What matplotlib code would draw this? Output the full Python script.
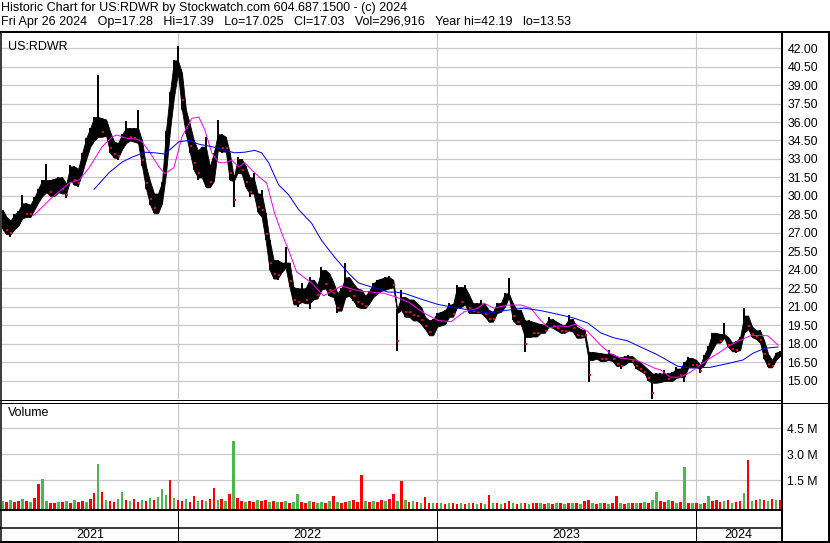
import numpy as np
import pandas as pd
import matplotlib
matplotlib.use("Agg")
import matplotlib.pyplot as plt
from matplotlib.lines import Line2D
from matplotlib.ticker import FormatStrFormatter, FuncFormatter

plt.rcParams['font.family'] = ['Liberation Sans', 'DejaVu Sans']

# ---------------- data ----------------
last_date = "2024-04-26"
step = 4  # trading days between samples
hi = [28.9, 28.3, 28.0, 28.5, 28.8, 30.1, 29.4, 29.3, 29.9, 30.6,
      31.3, 32.6, 31.3, 31.4, 31.5, 31.5, 31.0, 32.5, 32.4, 32.2,
      33.5, 34.7, 35.5, 36.4, 39.8, 36.3, 36.2, 35.2, 34.4, 34.3,
      35.0, 36.1, 35.5, 35.5, 37.0, 34.5, 32.4, 31.2, 30.2, 30.2,
      31.1, 35.3, 38.4, 41.0, 42.19, 40.0, 37.0, 35.8, 34.5, 33.7,
      34.0, 34.8, 32.4, 33.5, 36.2, 35.0, 34.8, 33.5, 31.5, 33.2,
      33.0, 32.4, 31.5, 31.9, 30.2, 30.5, 28.6, 26.4, 24.8, 24.8,
      24.6, 25.9, 24.6, 22.6, 22.5, 22.9, 22.5, 23.4, 23.2, 22.8,
      24.2, 24.0, 23.7, 23.0, 22.1, 22.5, 24.55, 23.4, 22.9, 22.5,
      22.4, 21.9, 22.3, 22.9, 23.2, 23.3, 23.4, 23.5, 23.2, 20.8,
      22.4, 21.8, 21.6, 21.6, 21.3, 21.0, 20.2, 19.9, 20.0, 20.5,
      20.6, 20.75, 21.3, 21.2, 22.8, 22.6, 22.8, 22.0, 21.3, 21.3,
      21.6, 21.2, 20.75, 20.6, 21.3, 21.3, 22.1, 23.35, 21.3, 20.75,
      20.75, 19.9, 19.9, 19.8, 19.7, 19.6, 19.55, 20.2, 20.0, 19.8,
      19.6, 19.5, 20.35, 20.0, 19.4, 19.2, 19.1, 17.35, 17.35, 17.3,
      17.25, 17.2, 17.5, 17.2, 17.0, 16.9, 17.0, 17.1, 17.0, 16.7,
      16.5, 16.2, 15.9, 15.6, 15.65, 15.6, 15.9, 15.6, 15.7, 16.1,
      16.0, 16.5, 16.95, 16.85, 16.7, 16.3, 17.1, 17.8, 18.9, 18.9,
      18.8, 19.7, 18.55, 18.1, 18.2, 18.55, 20.9, 20.3, 19.4, 19.1,
      19.1, 18.3, 17.2, 16.7, 17.3, 17.39]
lo = [27.3, 26.9, 26.7, 27.3, 27.6, 28.2, 28.3, 28.3, 28.9, 29.5,
      30.0, 30.3, 30.0, 29.9, 30.3, 30.2, 29.8, 31.3, 30.9, 30.7,
      31.9, 33.0, 34.0, 34.5, 34.8, 34.8, 34.9, 33.5, 33.1, 32.9,
      33.8, 34.3, 34.5, 34.4, 34.3, 32.4, 30.6, 29.3, 28.6, 28.6,
      29.4, 31.8, 35.3, 38.0, 40.0, 37.0, 35.0, 33.5, 32.1, 31.3,
      31.5, 30.7, 30.7, 31.2, 33.7, 33.5, 33.6, 31.3, 29.1, 31.9,
      31.8, 30.7, 29.9, 30.2, 28.7, 28.3, 26.4, 24.0, 23.3, 23.2,
      23.8, 24.2, 22.6, 21.2, 21.0, 21.4, 21.3, 20.8, 21.6, 21.7,
      22.4, 22.5, 21.9, 21.8, 20.5, 20.7, 21.8, 21.9, 21.5, 21.0,
      20.9, 20.8, 21.3, 21.8, 22.1, 22.3, 22.4, 22.5, 22.6, 17.4,
      20.75, 20.2, 20.2, 19.9, 19.9, 19.6, 19.2, 18.7, 18.7, 19.4,
      19.5, 19.6, 20.2, 20.2, 21.0, 21.0, 21.2, 20.5, 20.5, 20.4,
      20.5, 20.2, 19.8, 19.8, 20.5, 20.6, 21.0, 21.8, 19.9, 19.5,
      19.6, 17.35, 18.55, 18.6, 18.6, 18.9, 18.9, 19.4, 19.3, 19.1,
      18.9, 18.9, 19.1, 19.0, 18.5, 18.5, 18.55, 14.9, 16.7, 16.8,
      16.6, 16.6, 16.7, 16.6, 16.2, 16.0, 16.3, 16.55, 16.5, 16.0,
      15.8, 15.6, 15.0, 13.53, 14.85, 14.9, 15.0, 14.95, 15.0, 15.25,
      15.3, 14.9, 16.1, 16.1, 16.1, 15.65, 16.3, 16.9, 17.5, 18.1,
      18.1, 18.55, 17.75, 17.4, 17.25, 17.5, 18.9, 19.2, 18.55, 18.4,
      18.1, 16.8, 16.1, 16.05, 16.7, 17.025]

# volume in millions per sample, colour code per sample (g = up, r = down)
volume = [0.30, 0.25, 0.35, 0.22, 0.28, 0.40, 0.30, 0.25, 0.45, 1.27,
          1.58, 0.30, 0.20, 0.18, 0.25, 0.22, 0.30, 0.20, 0.35, 0.25,
          0.30, 0.25, 0.40, 0.75, 2.44, 0.80, 0.35, 0.30, 0.25, 0.40,
          0.80, 0.35, 0.30, 0.40, 0.25, 0.35, 0.30, 0.45, 0.35, 0.50,
          1.00, 0.65, 1.50, 0.45, 0.35, 0.30, 0.40, 0.25, 0.56, 0.30,
          0.35, 0.30, 0.40, 1.04, 0.35, 0.40, 0.30, 0.70, 3.77, 0.45,
          0.30, 0.25, 0.30, 0.25, 0.35, 0.30, 0.35, 0.25, 0.30, 0.25,
          0.25, 0.30, 0.20, 0.25, 0.70, 0.25, 0.20, 0.30, 0.25, 0.20,
          0.25, 0.20, 0.30, 0.56, 0.25, 0.20, 0.25, 0.30, 0.35, 0.25,
          1.81, 0.30, 0.25, 0.30, 0.25, 0.35, 0.30, 0.40, 0.70, 0.30,
          1.46, 0.35, 0.25, 0.30, 0.25, 0.20, 0.54, 0.20, 0.15, 0.18,
          0.15, 0.12, 0.15, 0.18, 0.12, 0.15, 0.12, 0.15, 0.18, 0.12,
          0.15, 0.12, 0.65, 0.15, 0.18, 0.12, 0.15, 0.30, 0.15, 0.12,
          0.20, 0.15, 0.12, 0.18, 0.15, 0.20, 0.12, 0.15, 0.12, 0.18,
          0.15, 0.12, 0.20, 0.15, 0.18, 0.12, 0.30, 0.37, 0.15, 0.12,
          0.15, 0.18, 0.12, 0.20, 0.56, 0.15, 0.12, 0.18, 0.15, 0.20,
          0.18, 0.25, 0.20, 0.35, 0.79, 0.30, 0.25, 0.35, 0.30, 0.20,
          0.25, 2.23, 0.20, 0.15, 0.18, 0.12, 0.20, 0.60, 0.30, 0.35,
          0.25, 0.30, 0.35, 0.20, 0.25, 0.30, 0.75, 2.63, 0.30, 0.35,
          0.40, 0.35, 0.30, 0.40, 0.35, 0.37]
vol_dir = ("grgrrgrgrr" "ggrrgrgrgr" "rgrrgrgrrg" "grgrrgrgrg" "ggrgrrgrrg"
           "rgrrgrgrgr" "rgrrgrrgrg" "rgrggrrgrg" "grgrgrrgrr" "rgrgrrgrrg"
           "rgrgrgrrgr" "grgrrgrgrg" "rgrgrgrrgr" "grgrrgrgrg" "rgrgrgrrgr"
           "grgrrgrgrg" "rgrggrrgrg" "rgrgrgrgrr" "rgrgrrgrgr" "grgrgr")

# moving averages: (trading day number, value)
ma_fast_day = [31, 50, 67, 77, 87, 100, 110, 115, 123, 135, 140, 148, 157, 163, 172,
               180, 190, 197, 203, 210, 217, 223, 230, 237, 243, 250, 258, 265, 273,
               280, 288, 295, 310, 322, 340, 357, 370, 383, 395, 407, 423, 437, 450,
               463, 477, 483, 493, 507, 520, 530, 540, 548, 557, 567, 575, 587, 600,
               610, 620, 635, 647, 655, 660, 670, 680, 690, 700, 710, 720, 730, 740,
               750, 760, 768, 778]
ma_fast = [28.4, 29.9, 31.05, 31.3, 32.3, 34.0, 34.8, 34.95, 34.7, 34.6, 34.4, 33.5,
           32.35, 31.8, 32.3, 34.8, 36.3, 36.4, 35.35, 33.5, 32.7, 32.7, 32.9, 32.35,
           32.7, 32.1, 31.5, 31.05, 28.6, 27.0, 25.4, 23.85, 22.95, 21.9, 22.7, 22.3,
           22.2, 22.1, 21.8, 21.4, 20.5, 19.9, 19.8, 20.6, 20.9, 21.3, 20.9, 21.15,
           21.15, 20.9, 19.9, 19.3, 19.45, 19.4, 19.6, 19.0, 17.9, 17.2, 16.85, 16.7,
           16.3, 16.0, 15.9, 15.3, 15.3, 15.7, 16.3, 16.85, 17.35, 17.9, 18.3, 18.65,
           18.7, 18.65, 17.9]
ma_slow_day = [92, 107, 120, 130, 143, 153, 163, 177, 187, 197, 210, 223, 233, 243, 253,
               260, 267, 277, 287, 297, 310, 320, 333, 347, 357, 373, 387, 395, 403,
               423, 437, 457, 473, 487, 503, 523, 540, 560, 573, 587, 600, 613, 627,
               640, 655, 663, 677, 690, 710, 730, 743, 753, 765, 778]
ma_slow = [30.55, 31.9, 32.75, 33.15, 33.55, 33.5, 33.4, 34.4, 34.5, 34.2, 34.0, 33.7,
           33.5, 33.55, 33.7, 33.5, 32.7, 30.9, 30.1, 28.9, 27.8, 26.4, 25.05, 23.75,
           22.95, 22.55, 22.2, 22.2, 22.1, 21.55, 21.2, 20.9, 20.7, 20.5, 20.7, 20.9,
           20.7, 20.35, 20.1, 19.7, 18.9, 18.5, 18.25, 17.75, 17.2, 16.85, 16.2, 16.05,
           16.1, 16.45, 16.7, 17.25, 17.65, 17.75]

years = ["2021", "2022", "2023", "2024"]
price_ticks = np.arange(15.0, 42.01, 1.5)
vol_ticks = [1.5, 3.0, 4.5]

header1 = "Historic Chart for US:RDWR by Stockwatch.com 604.687.1500 - (c) 2024"
header2 = ("Fri Apr 26 2024   Op=17.28   Hi=17.39   Lo=17.025   Cl=17.03   "
           "Vol=296,916   Year hi=42.19   lo=13.53")

# ---------------- derived positions ----------------
n = len(hi)
first_date = np.busday_offset(np.datetime64(last_date), -(n - 1) * step, roll='backward')
day = np.arange(n) * step
year_start = [int(np.busday_count(first_date,
                                  np.busday_offset(np.datetime64(f"{y}-01-01"), 0, roll='forward')))
              for y in years[1:]]
xmin, xmax = -0.5, 781.0
bounds = [xmin] + year_start + [xmax]
hi_a, lo_a = np.array(hi), np.array(lo)
mid = (hi_a + lo_a) / 2
falling = np.r_[False, mid[1:] < mid[:-1]]
# body of the band: isolated spikes are left to the thin bars
hp = np.r_[hi_a[0], hi_a, hi_a[-1]]
lp = np.r_[lo_a[0], lo_a, lo_a[-1]]
body_hi = np.minimum(hi_a, np.maximum(hp[:-2], hp[2:]))
body_lo = np.maximum(lo_a, np.minimum(lp[:-2], lp[2:]))
body_lo = np.minimum(body_lo, body_hi - 0.3)

# ---------------- figure ----------------
W, H = 830, 543
fig = plt.figure(figsize=(W / 100, H / 100), dpi=100, facecolor='white')

def rect(x0, y0, x1, y1):
    return [x0 / W, 1 - y1 / H, (x1 - x0) / W, (y1 - y0) / H]

def fline(x0, y0, x1, y1, lw=1.0, color='black'):
    fig.add_artist(Line2D([x0 / W, x1 / W], [1 - y0 / H, 1 - y1 / H],
                          transform=fig.transFigure, color=color, lw=lw * 0.72,
                          solid_capstyle='butt'))

grid_c = '#c8c8c8'
px = 0.72

# price panel
ax = fig.add_axes(rect(2, 33, 781, 399))
ax.set_xlim(xmin, xmax)
ax.set_ylim(13.53, 43.22)
for y in price_ticks:
    ax.axhline(y, color=grid_c, lw=1.2 * px, zorder=0)
for xs in year_start:
    ax.axvline(xs, color=grid_c, lw=1.2 * px, zorder=0)
ax.fill_between(day, body_lo, body_hi, color='black', lw=0.6, edgecolor='black', zorder=2)
ax.vlines(day, lo_a, hi_a, color='black', lw=2.0 * px, zorder=2)
ax.scatter(day[falling] + 1, lo_a[falling] + (hi_a[falling] - lo_a[falling]) * 0.25,
           s=3, marker='s', color='#ff0000', lw=0, zorder=3)
ax.plot(ma_fast_day, ma_fast, color='#ff00ff', lw=1.0 * px, zorder=4)
ax.plot(ma_slow_day, ma_slow, color='#0000ff', lw=1.0 * px, zorder=4)
ax.yaxis.tick_right()
ax.set_yticks(price_ticks)
ax.yaxis.set_major_formatter(FormatStrFormatter('%.2f'))
ax.tick_params(axis='y', length=0, pad=4.5, labelsize=8.8)
ax.set_xticks([])
for s in ax.spines.values():
    s.set_visible(False)
ax.text(0.008, 0.977, "US:RDWR", transform=ax.transAxes, fontsize=9, va='top', ha='left')

# volume panel
axv = fig.add_axes(rect(2, 402, 781, 509))
axv.set_xlim(xmin, xmax)
vmin = -0.17
axv.set_ylim(vmin, 6.0)
for y in vol_ticks:
    axv.axhline(y, color=grid_c, lw=1.2 * px, zorder=0)
for xs in year_start:
    axv.axvline(xs, color=grid_c, lw=1.2 * px, zorder=0)
cols = ['#4cb84c' if c == 'g' else '#ff0000' for c in vol_dir]
axv.bar(day, np.array(volume) - vmin, bottom=vmin, width=2.6, color=cols, lw=0, zorder=2)
axv.yaxis.tick_right()
axv.set_yticks(vol_ticks)
axv.yaxis.set_major_formatter(FuncFormatter(lambda v, p: f"{v:.1f} M"))
axv.tick_params(axis='y', length=0, pad=4, labelsize=8.8)
axv.set_xticks([])
for s in axv.spines.values():
    s.set_visible(False)
axv.text(0.008, 0.9, "Volume", transform=axv.transAxes, fontsize=9, va='center', ha='left')

# date band
axb = fig.add_axes(rect(2, 510, 781, 541))
axb.set_xlim(xmin, xmax)
axb.set_ylim(0, 1)
axb.axis('off')
for xs in year_start:
    axb.axvline(xs, color='black', lw=1.0 * px)
for i, y in enumerate(years):
    axb.text((bounds[i] + bounds[i + 1]) / 2, 0.2, y, ha='center', va='center', fontsize=9)

# header and frame lines
fig.text(1 / W, 1 - 8 / H, header1, fontsize=9, va='center', ha='left')
fig.text(1 / W, 1 - 21.5 / H, header2, fontsize=9, va='center', ha='left')
fline(0, 31.5, 830, 31.5, lw=2)
fline(0.5, 31, 0.5, 543, lw=1.5)
fline(829, 31, 829, 543, lw=2)
fline(782, 31, 782, 543, lw=2)
fline(0, 399.5, 782, 399.5, lw=1)
fline(0, 402.5, 830, 402.5, lw=1)
fline(0, 510, 782, 510, lw=2)
fline(0, 527.5, 782, 527.5, lw=1.5)
fline(0, 542, 830, 542, lw=2)

fig.savefig("out.png", dpi=100, facecolor='white')
